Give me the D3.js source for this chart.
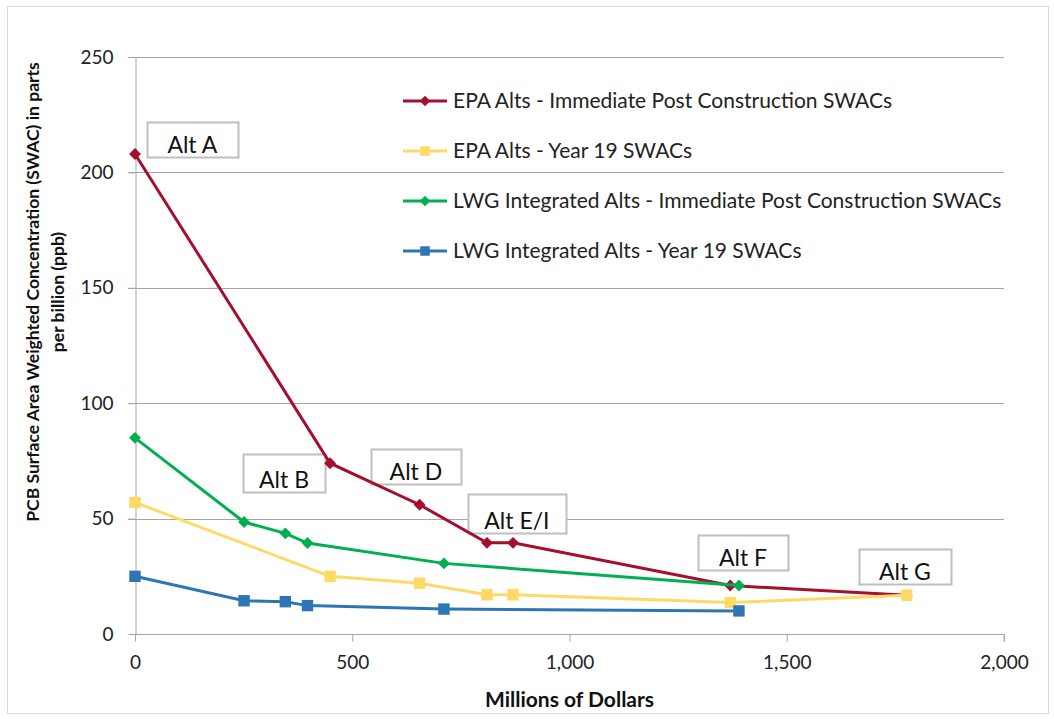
<!DOCTYPE html>
<html>
<head>
<meta charset="utf-8">
<script src="https://cdn.jsdelivr.net/npm/d3@7"></script>
<style>
  body { margin: 0; background: #fff; }
  svg { display: block; font-family: Lato, "Open Sans", sans-serif; }
</style>
</head>
<body>
<svg width="1054" height="719"></svg>
<script>
// cost (millions of dollars) for each alternative
var epaCost = [0, 449, 655, 810, 870, 1370, 1776];
var epaImmediate = [208, 74, 56, 39.5, 39.5, 21, 16.8];
var epaYear19 = [57, 25, 22, 17, 17, 13.6, 16.8];

var lwgCost = [0, 251, 346, 397, 711, 1390];
var lwgImmediate = [85, 48.5, 43.6, 39.4, 30.6, 21];
var lwgYear19 = [25, 14.4, 14, 12.3, 10.8, 10];

var seriesNames = [
    "EPA Alts - Immediate Post Construction SWACs",
    "EPA Alts - Year 19 SWACs",
    "LWG Integrated Alts - Immediate Post Construction SWACs",
    "LWG Integrated Alts - Year 19 SWACs"
];

var xTicks = [0, 500, 1000, 1500, 2000];
var yTicks = [0, 50, 100, 150, 200, 250];

// text boxes, corners in data units
var annoLabels = ["Alt A", "Alt B", "Alt D", "Alt E/I", "Alt F", "Alt G"];
var annoX0 = [27, 249, 543, 766, 1296, 1666];
var annoX1 = [237, 437, 750, 992, 1503, 1878];
var annoYTop = [221.8, 78, 80.2, 60.7, 42.9, 36.8];
var annoYBottom = [206.7, 61.5, 65, 43.8, 27.7, 21.7];

var svg = d3.select("svg"),
    width = +svg.attr("width"),
    height = +svg.attr("height");

var margin = { left: 135, right: 50, top: 57, bottom: 85 };

var x = d3.scaleLinear().domain([0, 2000]).range([margin.left, width - margin.right]);
var y = d3.scaleLinear().domain([0, 250]).range([height - margin.bottom, margin.top]);

var gridColor = "#a6a6a6";

// outer frame
svg.append("rect")
    .attr("x", 7.5).attr("y", 6.5)
    .attr("width", width - 13).attr("height", height - 12)
    .attr("fill", "none")
    .attr("stroke", "#d9d9d9");

// gridlines
svg.append("g")
    .selectAll("line")
    .data(yTicks.slice(1))
    .enter().append("line")
    .attr("x1", x(0) - 7).attr("x2", x(2000))
    .attr("y1", function (d) { return Math.round(y(d)) + 0.5; })
    .attr("y2", function (d) { return Math.round(y(d)) + 0.5; })
    .attr("stroke", gridColor);

// axes
var xAxis = svg.append("g")
    .attr("transform", "translate(0," + (Math.round(y(0)) + 0.5) + ")")
    .call(d3.axisBottom(x).tickValues(xTicks).tickSize(7).tickPadding(14)
        .tickFormat(d3.format(",")));

var yAxis = svg.append("g")
    .attr("transform", "translate(" + (Math.round(x(0)) + 0.5) + ",0)")
    .call(d3.axisLeft(y).tickValues(yTicks).tickSize(7).tickPadding(15));

[xAxis, yAxis].forEach(function (g) {
    g.select(".domain").attr("stroke", gridColor);
    g.selectAll(".tick line").attr("stroke", gridColor);
    g.selectAll(".tick text")
        .attr("fill", "#222")
        .style("font-family", "Lato, sans-serif")
        .style("font-size", "19px");
});
xAxis.select(".domain").attr("d", "M" + x(0) + ",0H" + x(2000) + "V7");

// axis titles
svg.append("text")
    .attr("x", (x(0) + x(2000)) / 2).attr("y", 707)
    .attr("text-anchor", "middle")
    .style("font-weight", "bold")
    .style("font-size", "21px")
    .attr("fill", "#111")
    .text("Millions of Dollars");

var yTitle = svg.append("text")
    .attr("transform", "translate(33,292) rotate(-90)")
    .attr("text-anchor", "middle")
    .style("font-weight", "bold")
    .style("font-size", "17.5px")
    .attr("fill", "#111");
yTitle.append("tspan").attr("x", 0).attr("dy", "0.35em")
    .text("PCB Surface Area Weighted Concentration (SWAC) in parts");
yTitle.append("tspan").attr("x", 0).attr("dy", 25)
    .text("per billion (ppb)");

// label boxes
var anno = svg.append("g")
    .selectAll("g")
    .data(annoLabels)
    .enter().append("g");

anno.append("rect")
    .attr("x", function (d, i) { return Math.round(x(annoX0[i])) + 0.5; })
    .attr("y", function (d, i) { return Math.round(y(annoYTop[i])) + 0.5; })
    .attr("width", function (d, i) { return Math.round(x(annoX1[i]) - x(annoX0[i])); })
    .attr("height", function (d, i) { return Math.round(y(annoYBottom[i]) - y(annoYTop[i])); })
    .attr("fill", "#fff")
    .attr("stroke", "#bfbfbf")
    .attr("stroke-width", 2);

anno.append("text")
    .attr("x", function (d, i) { return (x(annoX0[i]) + x(annoX1[i])) / 2; })
    .attr("y", function (d, i) { return y(annoYBottom[i]) - 4; })
    .attr("text-anchor", "middle")
    .style("font-size", "23px")
    .attr("fill", "#111")
    .text(function (d) { return d; });

// series
var series = [
    { name: seriesNames[0], xs: epaCost, ys: epaImmediate, color: "#a50f2d", shape: "diamond" },
    { name: seriesNames[1], xs: epaCost, ys: epaYear19, color: "#ffd966", shape: "square" },
    { name: seriesNames[2], xs: lwgCost, ys: lwgImmediate, color: "#00b050", shape: "diamond" },
    { name: seriesNames[3], xs: lwgCost, ys: lwgYear19, color: "#2e75b6", shape: "square" }
];

var line = d3.line()
    .x(function (d) { return x(d[0]); })
    .y(function (d) { return y(d[1]); });

function marker(shape) {
    return shape === "diamond"
        ? d3.symbol().type(d3.symbolDiamond2).size(90)()
        : d3.symbol().type(d3.symbolSquare).size(130)();
}

series.forEach(function (s) {
    var pts = s.xs.map(function (v, i) { return [v, s.ys[i]]; });
    var g = svg.append("g");
    g.append("path")
        .datum(pts)
        .attr("d", line)
        .attr("fill", "none")
        .attr("stroke", s.color)
        .attr("stroke-width", 3);
    g.selectAll("path.pt")
        .data(pts)
        .enter().append("path")
        .attr("class", "pt")
        .attr("transform", function (d) { return "translate(" + x(d[0]) + "," + y(d[1]) + ")"; })
        .attr("d", marker(s.shape))
        .attr("fill", s.color);
});

// legend
var legend = svg.append("g")
    .selectAll("g")
    .data(series)
    .enter().append("g")
    .attr("transform", function (d, i) { return "translate(403," + (101 + i * 50) + ")"; });

legend.append("line")
    .attr("x1", 0).attr("x2", 44)
    .attr("stroke", function (d) { return d.color; })
    .attr("stroke-width", 3);

legend.append("path")
    .attr("transform", "translate(22,0)")
    .attr("d", function (d) {
        return d.shape === "diamond"
            ? d3.symbol().type(d3.symbolDiamond2).size(70)()
            : d3.symbol().type(d3.symbolSquare).size(90)();
    })
    .attr("fill", function (d) { return d.color; });

legend.append("text")
    .attr("x", 50).attr("dy", "0.35em")
    .style("font-size", "21px")
    .attr("fill", "#222")
    .text(function (d) { return d.name; });
</script>
</body>
</html>
